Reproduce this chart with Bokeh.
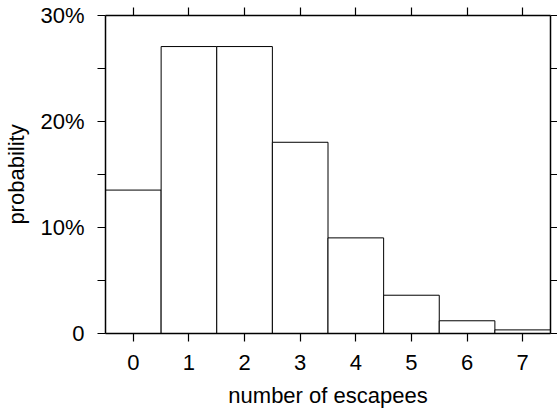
from bokeh.plotting import figure
from bokeh.models import FixedTicker, LinearAxis, Range1d, ColumnDataSource
from bokeh.embed import file_html
from bokeh.resources import INLINE

escapees = [0, 1, 2, 3, 4, 5, 6, 7]
probability = [0.1353, 0.2707, 0.2707, 0.1804, 0.0902, 0.0361, 0.0120, 0.0034]
x_ticks = [0, 1, 2, 3, 4, 5, 6, 7]
y_major = [0.0, 0.10, 0.20, 0.30]
y_minor = [0.05, 0.15, 0.25]
y_labels = {0.0: "0", 0.10: "10%", 0.20: "20%", 0.30: "30%"}

FONT = "Liberation Sans"

p = figure(width=557, height=416, output_backend="svg", toolbar_location=None,
           x_range=Range1d(-0.5, 7.5), y_range=Range1d(0, 0.30),
           min_border_left=105, min_border_right=7, min_border_top=15, min_border_bottom=83)
p.xgrid.visible = False
p.ygrid.visible = False
p.outline_line_color = None
p.background_fill_color = "white"
p.border_fill_color = "white"

src = ColumnDataSource(dict(x=escapees, top=probability))
p.vbar(x="x", top="top", width=1.0, bottom=0, source=src,
       fill_color="white", line_color="black", line_width=1)

def style(ax):
    ax.axis_line_color = "black"
    ax.axis_line_width = 1.5
    ax.major_tick_line_color = "black"
    ax.major_tick_line_width = 1.2
    ax.major_tick_in = 0
    ax.major_tick_out = 8
    ax.minor_tick_line_color = "black"
    ax.minor_tick_line_width = 1.2
    ax.minor_tick_in = 0
    ax.minor_tick_out = 8
    ax.major_label_text_font = FONT
    ax.major_label_text_font_size = "22px"
    ax.major_label_text_color = "black"
    ax.axis_label_text_font = FONT
    ax.axis_label_text_font_size = "22px"
    ax.axis_label_text_font_style = "normal"
    ax.axis_label_text_color = "black"

xa = p.xaxis[0]
xa.ticker = FixedTicker(ticks=x_ticks)
xa.axis_label = "number of escapees"
style(xa)
xa.major_label_standoff = 13
xa.axis_label_standoff = 10

ya = p.yaxis[0]
ya.ticker = FixedTicker(ticks=y_major, minor_ticks=y_minor)
ya.major_label_overrides = y_labels
ya.axis_label = "probability"
style(ya)
ya.major_label_standoff = 13
ya.axis_label_standoff = 8

top = LinearAxis(ticker=FixedTicker(ticks=[], minor_ticks=x_ticks))
style(top)
top.major_label_standoff = 0
p.add_layout(top, "above")

right = LinearAxis(ticker=FixedTicker(ticks=[], minor_ticks=y_major + y_minor))
style(right)
right.major_label_standoff = 0
right.minor_tick_out = 7
p.add_layout(right, "right")

open("out.html", "w").write(file_html(p, INLINE))
